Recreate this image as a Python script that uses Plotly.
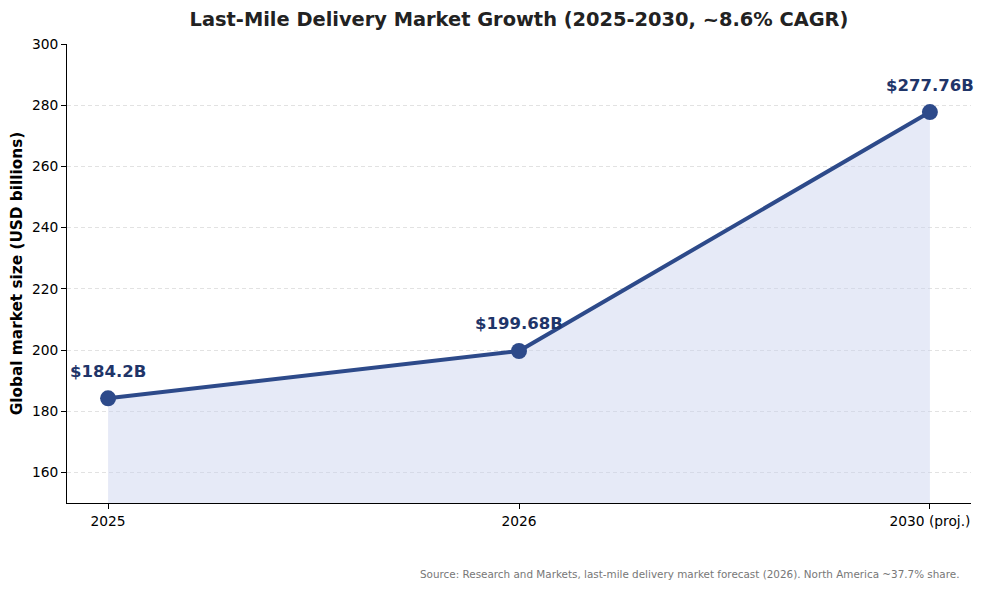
import plotly.graph_objects as go

categories = ["2025", "2026", "2030 (proj.)"]
values = [184.2, 199.68, 277.76]
labels = ["$184.2B", "$199.68B", "$277.76B"]
y_ticks = [160, 180, 200, 220, 240, 260, 280, 300]

FONT = "DejaVu Sans"
LINE = "#2d4a8a"

fig = go.Figure()
fig.add_trace(go.Scatter(
    x=categories, y=values, mode="lines+markers",
    line=dict(color=LINE, width=4),
    marker=dict(size=16, color=LINE),
    fill="tozeroy", fillcolor="rgba(200,208,238,0.45)",
    hoverinfo="skip", showlegend=False,
))
for i, (v, t) in enumerate(zip(values, labels)):
    fig.add_annotation(x=i, y=v, text="<b>%s</b>" % t, showarrow=False,
                       yshift=27, font=dict(family=FONT, size=16.5, color="#1f3569"))

fig.add_annotation(xref="paper", yref="paper", x=1.0 - 10/904, y=-0.155,
                   xanchor="right", yanchor="middle", showarrow=False,
                   text="Source: Research and Markets, last-mile delivery market forecast (2026). North America ~37.7% share.",
                   font=dict(family=FONT, size=10.4, color="#777777"))

fig.update_layout(
    width=984, height=589,
    margin=dict(l=67, r=13, t=44, b=86),
    paper_bgcolor="white", plot_bgcolor="white",
    font=dict(family=FONT, size=13.8, color="black"),
    title=dict(text="<b>Last-Mile Delivery Market Growth (2025-2030, ~8.6% CAGR)</b>",
               x=519/984, xanchor="center", y=1 - 19/589, yanchor="middle",
               font=dict(family=FONT, size=19.4, color="#222222")),
)
fig.update_xaxes(type="category", range=[-0.1, 2.1], showline=True, linecolor="black",
                 linewidth=1, ticks="outside", ticklen=5, tickcolor="black",
                 showgrid=False, zeroline=False, tickfont=dict(size=13.8))
fig.update_yaxes(range=[150, 300], tickvals=y_ticks, showline=True, linecolor="black",
                 linewidth=1, ticks="outside", ticklen=5, tickcolor="black",
                 showgrid=True, gridcolor="#e2e2e2", griddash="4px,3px", gridwidth=1,
                 zeroline=False, tickfont=dict(size=13.8),
                 title=dict(text="<b>Global market size (USD billions)</b>",
                            font=dict(size=15.3), standoff=5))

fig.write_html("out.html")
